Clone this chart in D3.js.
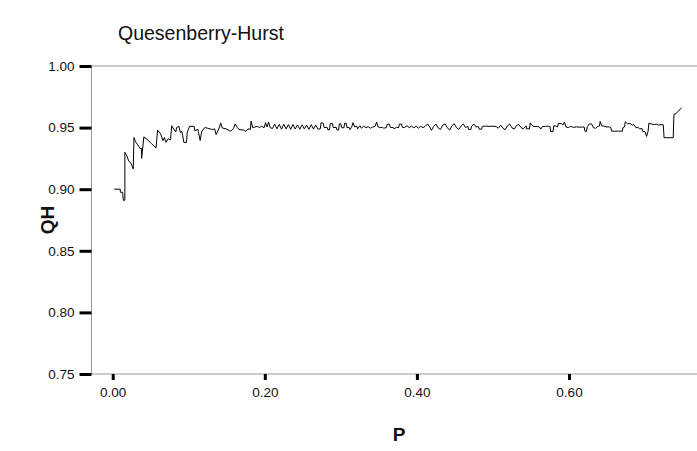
<!DOCTYPE html>
<html>
<head>
<meta charset="utf-8">
<script src="https://cdn.jsdelivr.net/npm/d3@7"></script>
<style>
body { margin: 0; background: #fff; }
svg { display: block; font-family: Arial, "Liberation Sans", sans-serif; }
</style>
</head>
<body>
<svg id="chart" width="697" height="451"></svg>
<script>
// QH against P
var pValues = [
0.002,0.010,0.010,0.013,0.014,0.016,0.016,0.018,0.021,0.024,0.027,0.028,0.030,0.033,0.036,0.038,0.038,0.041,0.046,0.051,
0.057,0.059,0.063,0.066,0.068,0.070,0.073,0.076,0.0776,0.080,0.083,0.084,0.087,0.089,0.091,0.0935,0.097,0.098,0.101,0.107,
0.108,0.112,0.115,0.117,0.121,0.125,0.131,0.134,0.136,0.140,0.142,0.144,0.149,0.155,0.159,0.161,0.164,0.166,0.172,0.175,
0.178,0.181,0.182,0.184,0.187,
0.190,0.193,0.196,0.199,0.201,0.203,0.205,0.207,0.210,0.213,0.216,0.219,0.222,0.225,0.228,0.231,0.234,0.237,0.240,0.243,
0.246,0.249,0.252,0.255,0.258,0.261,0.264,0.267,0.270,0.273,0.274,0.277,0.278,0.282,0.283,0.285,0.286,0.289,0.290,0.294,
0.295,0.297,0.298,0.300,0.301,0.304,0.305,0.307,0.308,0.311,0.312,0.314,0.316,0.318,0.321,0.322,0.325,0.327,0.330,0.333,
0.336,0.339,0.342,0.345,0.347,0.349,0.352,0.355,0.356,0.360,0.361,0.364,0.365,0.369,0.370,0.373,0.376,0.377,0.380,0.381,
0.384,
0.387,0.390,0.393,0.396,0.399,0.402,0.405,0.408,0.411,0.414,0.417,0.419,0.422,0.425,0.428,0.431,0.434,0.437,0.440,0.443,
0.446,0.449,0.452,0.455,0.458,0.461,0.464,0.467,0.468,0.471,0.472,0.475,0.478,0.481,0.482,0.485,0.486,0.490,0.495,0.500,
0.504,0.507,0.510,0.513,0.516,0.519,0.522,0.525,0.528,0.531,0.534,0.537,0.540,0.543,0.544,0.544,0.548,0.549,0.551,0.554,
0.558,0.561,0.563,0.565,0.569,
0.572,0.575,0.576,0.579,0.580,0.583,0.585,0.586,0.590,0.592,0.594,0.596,0.599,0.602,0.606,0.610,0.614,0.618,0.620,0.621,
0.623,0.624,0.627,0.630,0.632,0.635,0.638,0.640,0.641,0.643,0.646,0.650,0.653,0.655,0.656,0.660,0.665,0.670,0.671,0.673,
0.674,0.677,0.680,0.683,0.685,0.688,0.691,0.693,0.696,0.697,0.700,0.702,0.704,0.705,0.708,0.712,0.715,0.718,0.721,0.724,
0.725,0.730,0.737,0.738,0.741,0.748
];
var qhValues = [
0.900,0.900,0.8975,0.8975,0.891,0.891,0.930,0.928,0.923,0.921,0.9165,0.942,0.9385,0.936,0.933,0.933,0.925,0.9425,0.940,0.937,
0.9335,0.948,0.945,0.9395,0.942,0.938,0.941,0.940,0.9515,0.949,0.9465,0.950,0.951,0.946,0.947,0.938,0.938,0.946,0.951,0.951,
0.9475,0.9485,0.9395,0.9467,0.950,0.9495,0.9484,0.949,0.9443,0.9497,0.9538,0.9497,0.949,0.947,0.9495,0.953,0.950,0.9484,0.948,0.947,
0.949,0.9485,0.9552,0.950,0.9505,
0.9510,0.9500,0.9512,0.9498,0.9540,0.9505,0.9545,0.9500,0.9492,0.9528,0.9490,0.9526,0.9487,0.9527,0.9489,0.9524,0.9486,0.9525,0.9488,0.9522,
0.9487,0.9523,0.9489,0.9520,0.9486,0.9524,0.9488,0.9521,0.9487,0.9490,0.9540,0.9535,0.9500,0.9502,0.9482,0.9482,0.9532,0.9532,0.9500,0.9502,
0.9480,0.9480,0.9530,0.9530,0.9500,0.9498,0.9535,0.9535,0.9500,0.9502,0.9484,0.9500,0.9540,0.9506,0.9510,0.9490,0.9515,0.9495,0.9512,0.9500,
0.9508,0.9495,0.9505,0.9510,0.9545,0.9505,0.9500,0.9502,0.9495,0.9500,0.9528,0.9528,0.9502,0.9500,0.9490,0.9502,0.9500,0.9528,0.9528,0.9500,
0.9502,
0.9515,0.9500,0.9512,0.9498,0.9512,0.9496,0.9510,0.9500,0.9510,0.9530,0.9505,0.9478,0.9510,0.9528,0.9498,0.9485,0.9520,0.9530,0.9500,0.9480,
0.9515,0.9532,0.9500,0.9485,0.9512,0.9530,0.9500,0.9510,0.9485,0.9485,0.9512,0.9528,0.9505,0.9508,0.9486,0.9488,0.9510,0.9512,0.9510,0.9511,
0.9509,0.9495,0.9520,0.9498,0.9482,0.9515,0.9528,0.9498,0.9488,0.9518,0.9526,0.9500,0.9490,0.9512,0.9512,0.9490,0.9490,0.9538,0.9520,0.9508,
0.9510,0.9505,0.9488,0.9508,0.9510,
0.9512,0.9508,0.9468,0.9468,0.9515,0.9512,0.9505,0.9535,0.9532,0.9520,0.9545,0.9505,0.9500,0.9510,0.9502,0.9506,0.9503,0.9505,0.9504,0.9470,
0.9470,0.9508,0.9530,0.9528,0.9500,0.9494,0.9510,0.9512,0.9550,0.9515,0.9512,0.9505,0.9506,0.9500,0.9472,0.9470,0.9472,0.9470,0.9500,0.9505,
0.9548,0.9530,0.9535,0.9520,0.9525,0.9500,0.9500,0.9490,0.9492,0.9468,0.9466,0.9428,0.9470,0.9535,0.9530,0.9525,0.9528,0.9520,0.9524,0.9522,
0.9418,0.9418,0.9418,0.9608,0.9615,0.9662
];
var yTicks = [0.75, 0.80, 0.85, 0.90, 0.95, 1.00];
var xTicks = [0.00, 0.20, 0.40, 0.60];

var svg = d3.select("#chart");
var plotLeft = 91.5, plotTop = 66, plotBottom = 374, plotRight = 710;

var x = d3.scaleLinear().domain([0, 0.6]).range([112.7, 569]);
var y = d3.scaleLinear().domain([0.75, 1.00]).range([plotBottom, plotTop]);

// title
svg.append("text")
.text("Quesenberry-Hurst")
.attr("x", 118)
.attr("y", 40)
.attr("font-size", 19.5)
.attr("fill", "#111");

// frame
svg.append("rect")
.attr("x", plotLeft)
.attr("y", plotTop)
.attr("width", plotRight - plotLeft)
.attr("height", plotBottom - plotTop)
.attr("fill", "none")
.attr("stroke", "#999")
.attr("stroke-width", 1);

// axes
var yAxis = svg.append("g")
.attr("transform", "translate(" + plotLeft + ",0)")
.call(d3.axisLeft(y).tickValues(yTicks).tickFormat(d3.format(".2f")).tickSizeInner(12).tickSizeOuter(0).tickPadding(5));

var xAxis = svg.append("g")
.attr("transform", "translate(0," + plotBottom + ")")
.call(d3.axisBottom(x).tickValues(xTicks).tickFormat(d3.format(".2f")).tickSizeInner(6).tickSizeOuter(0).tickPadding(7));

[yAxis, xAxis].forEach(function (g) {
	g.select(".domain").remove();
	g.selectAll(".tick line").attr("stroke", "#000").attr("stroke-width", 3);
	g.selectAll(".tick text").attr("font-size", 13.5).attr("font-family", "Arial, 'Liberation Sans', sans-serif").attr("fill", "#111");
});

// axis titles
svg.append("text")
.text("QH")
.attr("transform", "translate(54," + ((plotTop + plotBottom) / 2) + ") rotate(-90)")
.attr("text-anchor", "middle")
.attr("font-size", 19)
.attr("font-weight", "bold")
.attr("fill", "#111");

svg.append("text")
.text("P")
.attr("x", 399)
.attr("y", 441)
.attr("text-anchor", "middle")
.attr("font-size", 19)
.attr("font-weight", "bold")
.attr("fill", "#111");

// the QH curve
var points = pValues.map(function (p, i) { return [p, qhValues[i]]; });
var line = d3.line()
.x(function (d) { return x(d[0]); })
.y(function (d) { return y(d[1]); });

svg.append("path")
.datum(points)
.attr("d", line)
.attr("fill", "none")
.attr("stroke", "#000")
.attr("stroke-width", 1);
</script>
</body>
</html>
